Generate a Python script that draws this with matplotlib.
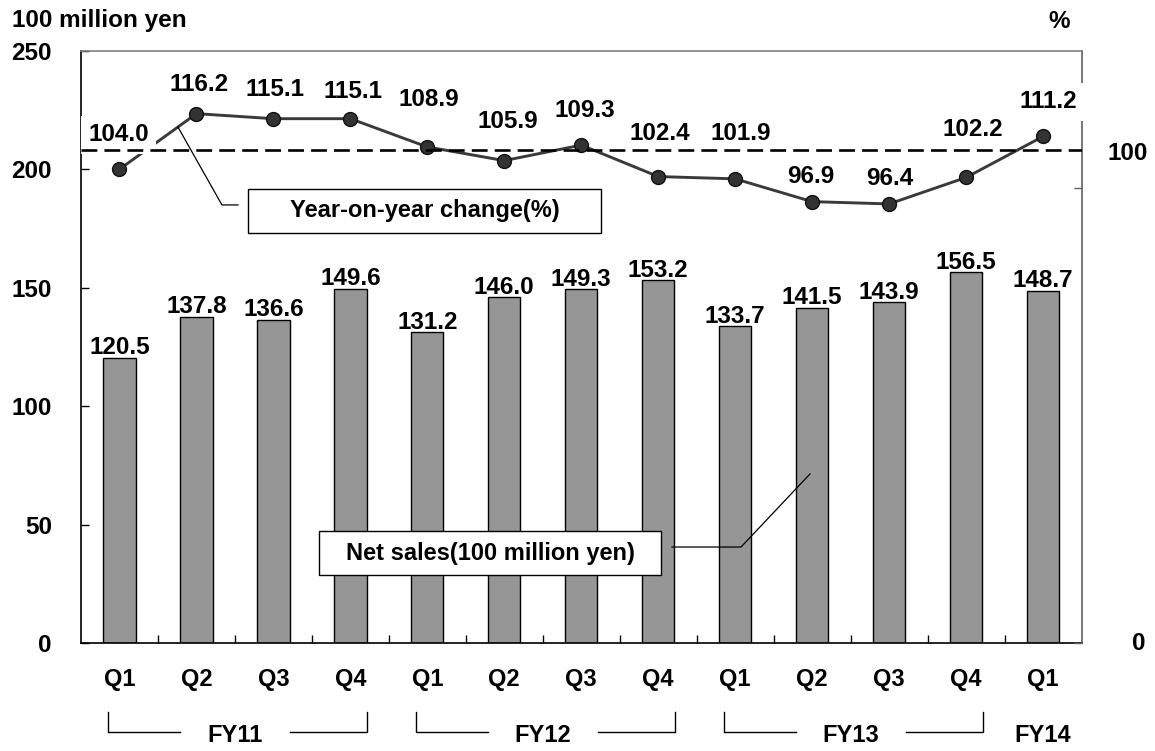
import numpy as np
import matplotlib
import matplotlib.pyplot as plt
import matplotlib.transforms as mtransforms
from matplotlib.patches import Rectangle
matplotlib.use('Agg')

# quarterly net sales (100 million yen) and year-on-year change (%)
quarters = ['Q1', 'Q2', 'Q3', 'Q4', 'Q1', 'Q2', 'Q3', 'Q4', 'Q1', 'Q2', 'Q3', 'Q4', 'Q1']
net_sales = [120.5, 137.8, 136.6, 149.6, 131.2, 146.0, 149.3, 153.2, 133.7, 141.5, 143.9, 156.5, 148.7]
yoy_change = [104.0, 116.2, 115.1, 115.1, 108.9, 105.9, 109.3, 102.4, 101.9, 96.9, 96.4, 102.2, 111.2]
fiscal_years = ['FY11', 'FY12', 'FY13', 'FY14']
fy_first_q = [0, 4, 8, 12]
fy_last_q = [3, 7, 11, 12]
ref_pct = 108.3

# label offsets for the % labels (points), hand placed
pct_dx = [-0.7, 2.2, 1.1, 1.8, 1.4, 2.5, 2.5, 1.1, 4.3, -1.1, 0.4, 5.0, 4.0]
pct_dy = [24.8, 20.9, 20.9, 19.4, 33.8, 28.1, 24.9, 30.8, 32.9, 18.0, 18.6, 34.8, 25.0]
boxed = [0, 12]

plt.rcParams['font.family'] = ['Liberation Sans', 'DejaVu Sans']
plt.rcParams['font.weight'] = 'bold'

fig = plt.figure(figsize=(11.55, 7.51), dpi=100)
ax1 = fig.add_axes([0.0701, 0.1434, 0.8663, 0.7890])
x = np.arange(len(quarters))

# bars
ax1.bar(x, net_sales, width=0.42, color='#969696', edgecolor='black', linewidth=1, zorder=2)
for xi, v in zip(x, net_sales):
    ax1.annotate('%.1f' % v, xy=(xi, v), xytext=(0, 2.5), textcoords='offset points',
                 ha='center', va='baseline', fontsize=17.5, fontweight='bold')

ax1.set_xlim(-0.5, len(quarters) - 0.5)
ax1.set_ylim(0, 250)
ax1.set_yticks(range(0, 251, 50))
ax1.set_xticks(x)
ax1.set_xticklabels(quarters)
ax1.set_xticks(x[:-1] + 0.5, minor=True)
ax1.tick_params(axis='x', which='major', length=0, pad=18, labelsize=17)
ax1.tick_params(axis='x', which='minor', direction='in', length=6, width=1)
ax1.tick_params(axis='y', direction='in', length=6, width=1, pad=21, labelsize=17.5)
for s in ['top', 'right']:
    ax1.spines[s].set_visible(False)
for s in ['left', 'bottom']:
    ax1.spines[s].set_linewidth(1.2)

# second axis for the % line
ax2 = ax1.twinx()
ax2.set_ylim(0, 130)
ax2.set_yticks([0, 100])
ax2.set_yticklabels([])
ax2.tick_params(axis='y', direction='in', length=6, width=1, color='#606060')
ax2.spines['left'].set_visible(False)
ax2.spines['bottom'].set_visible(False)
ax2.spines['top'].set_color('#808080')
ax2.spines['right'].set_color('#606060')
ax2.spines['top'].set_linewidth(1.2)
ax2.spines['right'].set_linewidth(1.2)

ax2.axhline(ref_pct, color='black', linewidth=1.9, linestyle=(0, (6, 2.7)), zorder=5)
ax2.plot(x, yoy_change, color='#3a3a3a', linewidth=2.1, marker='o', markersize=10,
         markerfacecolor='#333333', markeredgecolor='#111111', zorder=2)
for i, v in enumerate(yoy_change):
    bb = dict(boxstyle='square,pad=0.3', fc='white', ec='none') if i in boxed else None
    ax2.annotate('%.1f' % v, xy=(x[i], v), xytext=(pct_dx[i], pct_dy[i]),
                 textcoords='offset points', ha='center', va='center',
                 fontsize=17.5, fontweight='bold', bbox=bb, zorder=3)

# callout boxes with leader lines
ax2.add_patch(Rectangle((0.1669, 0.6925), 0.3528, 0.0743, transform=ax2.transAxes,
                        facecolor='white', edgecolor='black', linewidth=1, zorder=6))
ax2.text(0.3433, 0.7296, 'Year-on-year change(%)', transform=ax2.transAxes,
         ha='center', va='center', fontsize=17, fontweight='bold', zorder=7)
lead_x = 0.76
lead_y = np.interp(lead_x, x, yoy_change)
p0 = ax2.transAxes.inverted().transform(ax2.transData.transform((lead_x, lead_y)))
ax2.plot([p0[0], 0.1409, 0.1569], [p0[1], 0.7398, 0.7398], transform=ax2.transAxes,
         color='black', linewidth=0.9, zorder=6)

ax2.add_patch(Rectangle((0.2379, 0.1153), 0.3418, 0.0742, transform=ax2.transAxes,
                        facecolor='white', edgecolor='black', linewidth=1, zorder=6))
ax2.text(0.4088, 0.1524, 'Net sales(100 million yen)', transform=ax2.transAxes,
         ha='center', va='center', fontsize=17, fontweight='bold', zorder=7)
ax2.plot([0.5907, 0.6597, 0.7286], [0.1625, 0.1625, 0.2858], transform=ax2.transAxes,
         color='black', linewidth=0.9, zorder=6)

# fiscal year brackets under the quarter labels
fy_trans = mtransforms.blended_transform_factory(ax1.transData, ax1.transAxes)
for fy, q0, q1 in zip(fiscal_years, fy_first_q, fy_last_q):
    mid = (q0 + q1) / 2.0
    ax1.text(mid, -0.156, fy, transform=fy_trans, ha='center', va='center',
             fontsize=17, fontweight='bold', clip_on=False)
    if q1 == q0:
        continue
    left = q0 - 0.145
    right = q1 + 0.217
    ax1.plot([left, left, mid - 0.71], [-0.1154, -0.1492, -0.1492], transform=fy_trans,
             color='black', linewidth=1, clip_on=False)
    ax1.plot([mid + 0.72, right, right], [-0.1492, -0.1492, -0.1154], transform=fy_trans,
             color='black', linewidth=1, clip_on=False)

# axis unit labels
fig.text(12 / 1155, 1 - 20 / 751, '100 million yen', ha='left', va='center', fontsize=17.5, fontweight='bold')
fig.text(1059 / 1155, 1 - 22 / 751, '%', ha='center', va='center', fontsize=17.5, fontweight='bold')
fig.text(1128 / 1155, 1 - 154 / 751, '100', ha='center', va='center', fontsize=17.5, fontweight='bold')
fig.text(1139 / 1155, 1 - 644 / 751, '0', ha='center', va='center', fontsize=17.5, fontweight='bold')

plt.savefig('out.png', dpi=100)
plt.close()
